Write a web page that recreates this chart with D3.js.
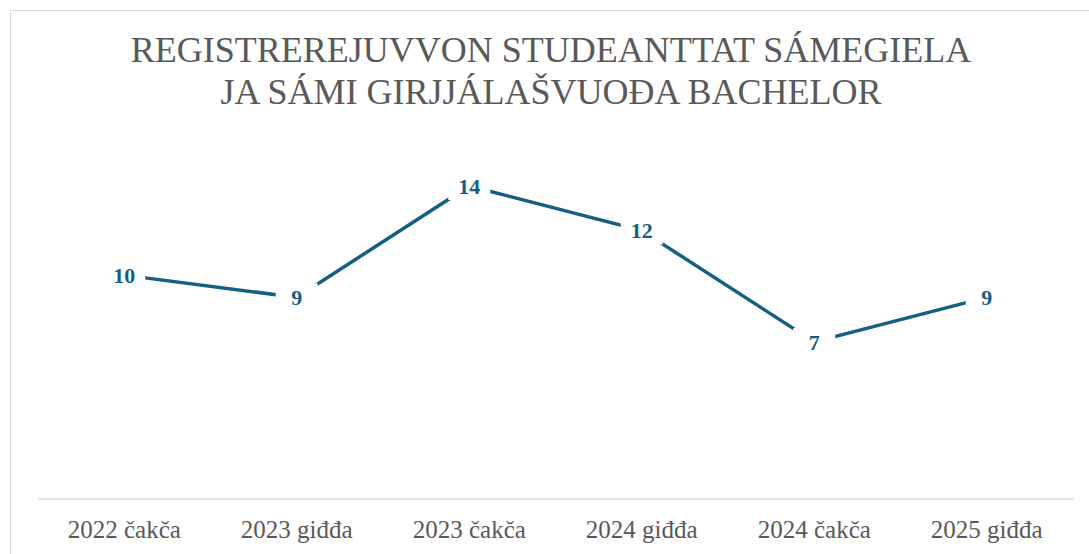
<!DOCTYPE html>
<html>
<head>
<meta charset="utf-8">
<script src="https://cdn.jsdelivr.net/npm/d3@7"></script>
<style>
  body { margin: 0; background: #fff; }
  svg { display: block; }
</style>
</head>
<body>
<div id="chart"></div>
<script>
const categories = ["2022 čakča", "2023 giđđa", "2023 čakča", "2024 giđđa", "2024 čakča", "2025 giđđa"];
const values = [10, 9, 14, 12, 7, 9];
const titleLines = ["REGISTREREJUVVON STUDEANTTAT SÁMEGIELA", "JA SÁMI GIRJJÁLAŠVUOĐA BACHELOR"];

const width = 1089, height = 554;
const lineColor = "#156082";
const textColor = "#595959";
const serif = "'Liberation Serif', serif";

const svg = d3.select("#chart")
  .append("svg")
  .attr("width", width)
  .attr("height", height);

// chart area border (runs off the right/bottom edge)
svg.append("rect")
  .attr("x", 10.5).attr("y", 10.5)
  .attr("width", width + 20).attr("height", height + 20)
  .attr("fill", "#fff")
  .attr("stroke", "#d9d9d9");

// title
svg.append("g").selectAll("text")
  .data(titleLines)
  .join("text")
  .attr("x", 551)
  .attr("y", (d, i) => 62 + i * 42)
  .attr("text-anchor", "middle")
  .attr("font-family", serif)
  .attr("font-size", 36)
  .attr("fill", textColor)
  .text(d => d);

const x = d3.scaleBand().domain(categories).range([38, 1073]);
const y = d3.scaleLinear().domain([0, 16]).range([498, 141.4]);

// x axis
const xAxis = svg.append("g")
  .attr("transform", "translate(0,498.5)")
  .call(d3.axisBottom(x).tickSize(0).tickPadding(0));
xAxis.select(".domain").attr("stroke", "#d9d9d9").attr("stroke-width", 1.3);
xAxis.selectAll("text")
  .attr("dy", null)
  .attr("y", 39)
  .attr("font-family", serif)
  .attr("font-size", 25)
  .attr("fill", textColor);

const cx = d => x(d) + x.bandwidth() / 2;

// line
const line = d3.line()
  .x((d, i) => cx(categories[i]))
  .y(d => y(d));

svg.append("path")
  .datum(values)
  .attr("fill", "none")
  .attr("stroke", lineColor)
  .attr("stroke-width", 3.5)
  .attr("stroke-linecap", "butt")
  .attr("d", line);

// data labels with white boxes cutting the line
const labels = svg.append("g").selectAll("g")
  .data(values)
  .join("g")
  .attr("transform", (d, i) => `translate(${cx(categories[i])},${y(d)})`);

labels.append("rect")
  .attr("x", -21).attr("y", -14)
  .attr("width", 42).attr("height", 28)
  .attr("fill", "#fff");

labels.append("text")
  .attr("text-anchor", "middle")
  .attr("dy", "0.35em")
  .attr("font-family", serif)
  .attr("font-weight", "bold")
  .attr("font-size", 22)
  .attr("fill", lineColor)
  .text(d => d);
</script>
</body>
</html>
